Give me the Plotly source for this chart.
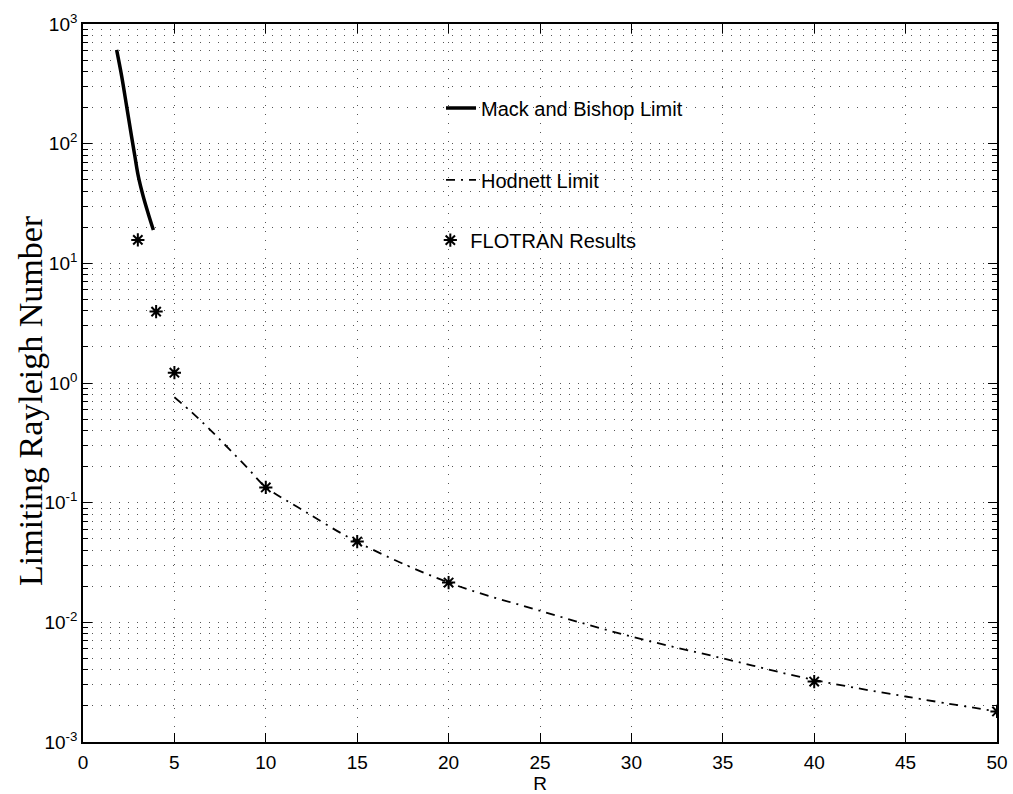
import plotly.graph_objects as go

# ---- data ----
mack_R = [1.84, 2.12, 2.39, 2.66, 2.84, 3.03, 3.30, 3.57, 3.85]
mack_Ra = [607, 363, 204, 114, 78, 53, 36, 26, 19]

hod_R = [5, 6, 7, 8, 9, 10, 12, 15, 20, 25, 30, 35, 40, 45, 50]
hod_Ra = [0.76, 0.56, 0.40, 0.28, 0.195, 0.135, 0.087, 0.047, 0.0215,
          0.0125, 0.0076, 0.0050, 0.0033, 0.0024, 0.0018]

flo_R = [3, 4, 5, 10, 15, 20, 40, 50]
flo_Ra = [15.7, 3.95, 1.22, 0.134, 0.0473, 0.0215, 0.0032, 0.0018]

x_ticks = [0, 5, 10, 15, 20, 25, 30, 35, 40, 45, 50]
y_exps = [-3, -2, -1, 0, 1, 2, 3]
y_ticktext = ["10<sup>%d</sup>" % e for e in y_exps]

SANS = "Liberation Sans, Arial, Helvetica, sans-serif"
SERIF = "Liberation Serif, Times New Roman, serif"
GRIDC = "#555555"
GDASH = "1px,8px"

fig = go.Figure()
fig.add_trace(go.Scatter(x=mack_R, y=mack_Ra, mode="lines", name="Mack and Bishop Limit",
                         line=dict(color="black", width=3.5, shape="spline"),
                         legend="legend", showlegend=True))
fig.add_trace(go.Scatter(x=hod_R, y=hod_Ra, mode="lines", name="Hodnett Limit",
                         line=dict(color="black", width=1.8, dash="9px,6px,2px,6px",
                                   shape="spline"),
                         legend="legend2", showlegend=True))
fig.add_trace(go.Scatter(x=flo_R, y=flo_Ra, mode="markers", name="FLOTRAN Results",
                         marker=dict(symbol="asterisk-open", size=11, color="black",
                                     line=dict(color="black", width=2)),
                         legend="legend3", showlegend=True))

minor_vals = [m * 10 ** e for e in y_exps[:-1] for m in range(2, 10)]

leg_common = dict(xanchor="left", yanchor="middle", bgcolor="rgba(0,0,0,0)",
                  borderwidth=0, itemwidth=30, font=dict(family=SANS, size=20, color="black"))

fig.update_layout(
    width=1013, height=794,
    margin=dict(l=83, r=16, t=24, b=52),
    paper_bgcolor="white", plot_bgcolor="white",
    font=dict(family=SANS, size=19, color="black"),
    showlegend=True,
    legend=dict(x=0.3917, y=0.8830, **leg_common),
    legend2=dict(x=0.3917, y=0.7830, **leg_common),
    legend3=dict(x=0.3800, y=0.6990, **leg_common),
    xaxis=dict(
        range=[0, 50], tickvals=x_ticks, ticks="inside", ticklen=9, tickwidth=1.2,
        tickcolor="black", showline=True, linecolor="black", linewidth=1.6,
        mirror="ticks", zeroline=False, ticklabelstandoff=2, automargin=False,
        showgrid=True, gridcolor=GRIDC, griddash=GDASH, gridwidth=1,
        tickfont=dict(family=SANS, size=19),
        title=dict(text="R", font=dict(family=SANS, size=19), standoff=10),
    ),
    yaxis=dict(
        type="log", range=[-3, 3], automargin=False,
        tickvals=[10 ** e for e in y_exps], ticktext=y_ticktext,
        ticks="inside", ticklen=9, tickwidth=1.2, tickcolor="black",
        showline=True, linecolor="black", linewidth=1.6, mirror="ticks",
        zeroline=False,
        showgrid=True, gridcolor=GRIDC, griddash=GDASH, gridwidth=1,
        tickfont=dict(family=SANS, size=19),
        minor=dict(tickvals=minor_vals, ticks="inside", ticklen=5, tickwidth=1.2,
                   tickcolor="black", showgrid=True, gridcolor=GRIDC,
                   griddash=GDASH, gridwidth=1),
    ),
    annotations=[dict(text="Limiting Rayleigh Number", xref="paper", yref="paper",
                      x=(30 - 83) / 914, y=(742 - 401) / 718, xanchor="center",
                      yanchor="middle", textangle=-90, showarrow=False,
                      font=dict(family=SERIF, size=34, color="black"))],
)

fig.write_html("out.html", config={"displayModeBar": False},
               post_script="document.body.style.margin='0';")
